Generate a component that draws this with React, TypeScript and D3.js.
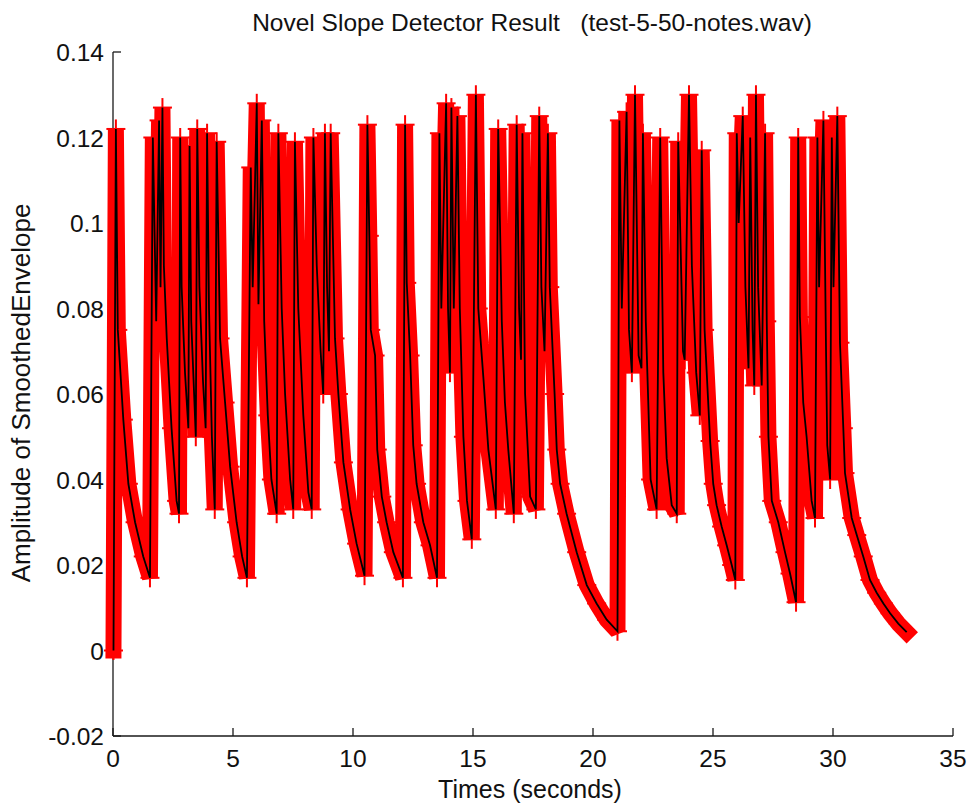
import React from "react";
import * as d3 from "d3";

// ---- data ----
const times: number[] = [
  0.02, 0.12, 0.2, 0.43, 0.64, 0.92, 1.26, 1.54,
  1.66, 1.8, 1.92, 1.98, 2.06, 2.12, 2.24, 2.44, 2.65, 2.75,
  2.8, 2.86, 3.0, 3.14, 3.19, 3.26, 3.45, 3.51, 3.6, 3.75, 3.86,
  3.92, 4.0, 4.12, 4.24, 4.32, 4.46, 4.67, 4.88, 5.15, 5.38, 5.58,
  5.74, 5.82, 5.99, 6.06, 6.2, 6.3, 6.45, 6.6, 6.82,
  6.89, 7.03, 7.17, 7.38, 7.51, 7.58, 7.72, 7.93, 8.14, 8.28,
  8.35, 8.49, 8.65, 8.76, 8.83, 8.92, 9.0, 9.07, 9.25, 9.39, 9.6, 9.88, 10.15, 10.48,
  10.6, 10.68, 10.74, 10.92, 11.01, 11.2, 11.4, 11.68, 12.08,
  12.17, 12.24, 12.38, 12.51, 12.65, 12.93, 13.21, 13.5,
  13.6, 13.68, 13.88, 13.96, 14.04, 14.1, 14.2, 14.35, 14.45, 14.6, 14.75, 14.95,
  15.12, 15.22, 15.43, 15.64, 15.95, 16.05, 16.2, 16.33, 16.47, 16.7,
  16.82, 16.92, 17.0, 17.06, 17.17, 17.38, 17.62,
  17.76, 17.85, 17.98, 18.12, 18.2, 18.4, 18.49, 18.63, 18.9, 19.32, 19.74, 20.15, 20.57, 21.02,
  21.1, 21.2, 21.4, 21.5, 21.62, 21.75, 21.9, 22.02, 22.08, 22.2, 22.4, 22.65,
  22.8, 22.93, 23.07, 23.28, 23.49, 23.55, 23.75, 23.82, 24.0, 24.12, 24.3, 24.45,
  24.53, 24.65, 24.88, 25.01, 25.15, 25.36, 25.57, 25.78, 25.93,
  25.99, 26.07, 26.24, 26.35, 26.48, 26.55, 26.65, 26.72, 26.79, 26.88, 27.03,
  27.17, 27.24, 27.31, 27.45, 27.72, 28.0, 28.21, 28.46,
  28.55, 28.62, 28.76, 28.9, 29.11, 29.25, 29.35, 29.42, 29.6, 29.71, 29.76, 29.88,
  29.95, 30.02, 30.18, 30.29, 30.43, 30.5, 30.78, 30.99, 31.26, 31.54, 31.82, 32.1, 32.38, 32.72, 33.07,
];

const amplitude: number[] = [
  0.0, 0.122, 0.075, 0.054, 0.039, 0.03, 0.022, 0.017,
  0.12, 0.077, 0.124, 0.085, 0.127, 0.09, 0.073, 0.052, 0.035, 0.032,
  0.12, 0.085, 0.065, 0.052, 0.118, 0.077, 0.05, 0.122, 0.085, 0.063, 0.052,
  0.121, 0.08, 0.05, 0.033, 0.119, 0.073, 0.058, 0.043, 0.03, 0.022, 0.017,
  0.113, 0.085, 0.128, 0.081, 0.124, 0.077, 0.055, 0.04, 0.032,
  0.121, 0.08, 0.06, 0.04, 0.033, 0.119, 0.08, 0.055, 0.037, 0.033,
  0.12, 0.09, 0.07, 0.06, 0.121, 0.085, 0.07, 0.121, 0.073, 0.06, 0.044, 0.033, 0.025, 0.0175,
  0.123, 0.097, 0.075, 0.069, 0.047, 0.036, 0.03, 0.023, 0.017,
  0.123, 0.086, 0.069, 0.048, 0.039, 0.03, 0.0246, 0.017,
  0.121, 0.08, 0.128, 0.08, 0.065, 0.127, 0.08, 0.125, 0.08, 0.05, 0.035, 0.026,
  0.13, 0.08, 0.064, 0.047, 0.033, 0.122, 0.077, 0.058, 0.047, 0.032,
  0.123, 0.08, 0.068, 0.121, 0.06, 0.036, 0.033,
  0.125, 0.085, 0.07, 0.121, 0.085, 0.06, 0.047, 0.039, 0.032, 0.023, 0.0153, 0.011, 0.0072, 0.0045,
  0.124, 0.08, 0.126, 0.075, 0.065, 0.13, 0.069, 0.066, 0.121, 0.077, 0.04, 0.033,
  0.12, 0.065, 0.045, 0.034, 0.032, 0.119, 0.07, 0.068, 0.13, 0.09, 0.065, 0.055,
  0.117, 0.075, 0.049, 0.039, 0.034, 0.029, 0.0246, 0.02, 0.0165,
  0.121, 0.1, 0.125, 0.085, 0.066, 0.12, 0.075, 0.062, 0.13, 0.085, 0.062,
  0.121, 0.077, 0.05, 0.035, 0.03, 0.023, 0.018, 0.0113,
  0.12, 0.078, 0.058, 0.05, 0.035, 0.031, 0.12, 0.085, 0.124, 0.07, 0.048, 0.04,
  0.12, 0.085, 0.125, 0.072, 0.052, 0.0415, 0.031, 0.027, 0.022, 0.0165, 0.0135, 0.011, 0.0087, 0.0063, 0.0043,
];

const xTicks: number[] = [0, 5, 10, 15, 20, 25, 30, 35];
const yTicks: number[] = [-0.02, 0, 0.02, 0.04, 0.06, 0.08, 0.1, 0.12, 0.14];
const yTickLabels: string[] = ["-0.02", "0", "0.02", "0.04", "0.06", "0.08", "0.1", "0.12", "0.14"];

const titleText = "Novel Slope Detector Result   (test-5-50-notes.wav)";
const xLabel = "Times (seconds)";
const yLabel = "Amplitude of SmoothedEnvelope";

export default function App() {
  const W = 967;
  const H = 807;
  const left = 113, right = 953, top = 52, bottom = 736;
  const x = d3.scaleLinear().domain([0, 35]).range([left, right]);
  const y = d3.scaleLinear().domain([-0.02, 0.14]).range([bottom, top]);

  const pts: [number, number][] = times.map((t, i) => [t, amplitude[i]]);
  const line = d3
    .line<[number, number]>()
    .x((d) => x(d[0]))
    .y((d) => y(d[1]));
  const pathD = line(pts) || "";

  const font = "'Liberation Sans', Arial, Helvetica, sans-serif";
  const tickLen = 8;
  const mk = 9.5;

  return (
    <svg
      width={W}
      height={H}
      style={{ position: "absolute", left: 0, top: 0, background: "#fff" }}
      fontFamily={font}
    >
      <rect x={0} y={0} width={W} height={H} fill="#fff" />
      {/* axes */}
      <g stroke="#1a1a1a" strokeWidth={1.3} fill="none">
        <line x1={left} y1={top} x2={left} y2={bottom} />
        <line x1={left} y1={bottom} x2={right} y2={bottom} />
        {xTicks.map((t) => (
          <line key={"xt" + t} x1={x(t)} x2={x(t)} y1={bottom} y2={bottom - tickLen} />
        ))}
        {yTicks.map((t) => (
          <line key={"yt" + t} x1={left} x2={left + tickLen} y1={y(t)} y2={y(t)} />
        ))}
      </g>
      {/* tick labels */}
      <g fontSize={24.5} fill="#111">
        {xTicks.map((t) => (
          <text key={"xl" + t} x={x(t)} y={767} textAnchor="middle">
            {String(t)}
          </text>
        ))}
        {yTicks.map((t, i) => (
          <text key={"yl" + t} x={104} y={y(t) + 9} textAnchor="end">
            {yTickLabels[i]}
          </text>
        ))}
      </g>
      {/* data: red + markers band */}
      <path
        d={pathD}
        fill="none"
        stroke="#ff0000"
        strokeWidth={16}
        strokeLinejoin="bevel"
        strokeLinecap="square"
      />
      <g stroke="#ff0000" strokeWidth={2}>
        {pts.map((d, i) => (
          <g key={"m" + i}>
            <line x1={x(d[0]) - mk} x2={x(d[0]) + mk} y1={y(d[1])} y2={y(d[1])} />
            <line x1={x(d[0])} x2={x(d[0])} y1={y(d[1]) - mk} y2={y(d[1]) + mk} />
          </g>
        ))}
      </g>
      {/* black line */}
      <path d={pathD} fill="none" stroke="#000" strokeWidth={1.8} strokeLinejoin="miter" />
      {/* labels */}
      <text x={532} y={31} textAnchor="middle" fontSize={24.5} fill="#111" style={{ whiteSpace: "pre" }}>
        {titleText}
      </text>
      <text x={530} y={798} textAnchor="middle" fontSize={25} fill="#111">
        {xLabel}
      </text>
      <text
        transform={`translate(30, ${393}) rotate(-90)`}
        textAnchor="middle"
        fontSize={26}
        fill="#111"
      >
        {yLabel}
      </text>
    </svg>
  );
}
